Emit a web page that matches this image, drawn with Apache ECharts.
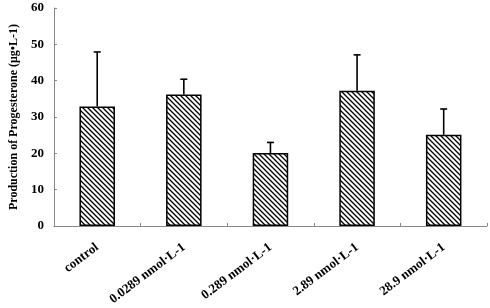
<!DOCTYPE html>
<html>
<head>
<meta charset="utf-8">
<script src="https://cdn.jsdelivr.net/npm/echarts@6/dist/echarts.min.js"></script>
<style>
  html, body { margin: 0; padding: 0; background: #fff; }
  #chart { width: 490px; height: 308px; }
</style>
</head>
<body>
<div id="chart"></div>
<script>
  var categories = ['control', '0.0289 nmol·L-1', '0.289 nmol·L-1', '2.89 nmol·L-1', '28.9 nmol·L-1'];
  var means = [32.9, 36.2, 20.1, 37.2, 25.1];
  var errTops = [47.9, 40.4, 23.0, 47.1, 32.2];
  var yTicks = [0, 10, 20, 30, 40, 50, 60];

  // 斜线填充
  function hatch() {
    var c = document.createElement('canvas');
    var s = 5;
    c.width = s;
    c.height = s;
    var ctx = c.getContext('2d');
    ctx.fillStyle = '#fff';
    ctx.fillRect(0, 0, s, s);
    ctx.strokeStyle = '#000';
    ctx.lineWidth = 1.3;
    ctx.beginPath();
    ctx.moveTo(-1, -1); ctx.lineTo(s + 1, s + 1);
    ctx.moveTo(-s - 1, -1); ctx.lineTo(1, s + 1);
    ctx.moveTo(s - 1, -1); ctx.lineTo(2 * s + 1, s + 1);
    ctx.stroke();
    return c;
  }

  var chart = echarts.init(document.getElementById('chart'));
  var fontFamily = '"Times New Roman", "Liberation Serif", serif';

  chart.setOption({
    animation: false,
    grid: { left: 50, right: 3, top: 8, bottom: 82 },
    xAxis: {
      type: 'category',
      data: categories,
      axisLine: { lineStyle: { color: '#888', width: 1 } },
      axisTick: { show: true, inside: true, length: 3, lineStyle: { color: '#888' } },
      axisLabel: {
        rotate: 37,
        interval: 0,
        margin: 20,
        color: '#000',
        fontFamily: fontFamily,
        fontWeight: 'bold',
        fontSize: 13
      }
    },
    yAxis: {
      type: 'value',
      min: yTicks[0],
      max: yTicks[yTicks.length - 1],
      interval: 10,
      name: 'Production of Progesterone (μg•L-1)',
      nameLocation: 'middle',
      nameGap: 30,
      nameTextStyle: {
        color: '#000',
        fontFamily: fontFamily,
        fontWeight: 'bold',
        fontSize: 12
      },
      axisLine: { show: true, lineStyle: { color: '#888', width: 1 } },
      axisTick: { show: true, inside: true, length: 3, lineStyle: { color: '#888' } },
      splitLine: { show: false },
      axisLabel: {
        margin: 10,
        color: '#000',
        fontFamily: fontFamily,
        fontWeight: 'bold',
        fontSize: 13
      }
    },
    series: [{
      type: 'bar',
      data: means,
      barWidth: '41%',
      itemStyle: {
        color: { image: hatch(), repeat: 'repeat' },
        borderColor: '#000',
        borderWidth: 1.5
      }
    }, {
      type: 'custom',
      data: errTops.map(function (v, i) { return [i, means[i], v]; }),
      renderItem: function (params, api) {
        var base = api.coord([api.value(0), api.value(1)]);
        var top = api.coord([api.value(0), api.value(2)]);
        var half = 3.5;
        return {
          type: 'group',
          children: [{
            type: 'line',
            shape: { x1: base[0], y1: base[1], x2: top[0], y2: top[1] },
            style: { stroke: '#000', lineWidth: 1.6 }
          }, {
            type: 'line',
            shape: { x1: top[0] - half, y1: top[1], x2: top[0] + half, y2: top[1] },
            style: { stroke: '#000', lineWidth: 1.6 }
          }]
        };
      },
      z: 3
    }]
  });
</script>
</body>
</html>
